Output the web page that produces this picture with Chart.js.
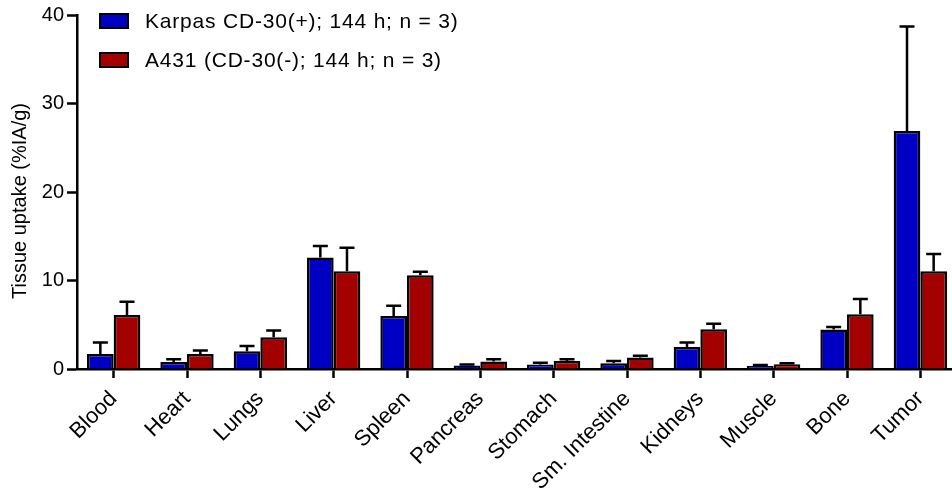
<!DOCTYPE html>
<html>
<head>
<meta charset="utf-8">
<script src="https://cdn.jsdelivr.net/npm/chart.js@4.4.1/dist/chart.umd.min.js"></script>
<style>
  html, body { margin: 0; padding: 0; background: #fff; overflow: hidden; }
  #wrap { width: 960px; height: 494px; }
</style>
</head>
<body>
<div id="wrap"><canvas id="chart" width="960" height="494"></canvas></div>
<script>
const tissues = ['Blood', 'Heart', 'Lungs', 'Liver', 'Spleen', 'Pancreas', 'Stomach', 'Sm. Intestine', 'Kidneys', 'Muscle', 'Bone', 'Tumor'];

// mean values (%IA/g)
const karpasMean = [1.7, 0.8, 2.0, 12.6, 6.0, 0.4, 0.5, 0.65, 2.5, 0.35, 4.45, 26.9];
const a431Mean   = [6.1, 1.7, 3.6, 11.05, 10.6, 0.85, 0.9, 1.3, 4.5, 0.55, 6.2, 11.05];

// top of the error bar (mean + SD)
const karpasErr = [3.0, 1.1, 2.6, 13.9, 7.15, 0.5, 0.7, 0.9, 3.0, 0.45, 4.75, 38.7];
const a431Err   = [7.6, 2.1, 4.35, 13.7, 11.0, 1.1, 1.1, 1.5, 5.1, 0.65, 7.9, 13.0];

const yTicks = [0, 10, 20, 30, 40];
const yTitle = 'Tissue uptake (%IA/g)';

const colors = {
    blue: '#0000c4',
    red: '#a30000',
    black: '#000000'
};

const FONT = "'Liberation Sans', Arial, sans-serif";

const errorBars = {
    id: 'errorBars',
    afterDatasetsDraw(chart) {
        const { ctx, scales: { y } } = chart;
        const tops = [karpasErr, a431Err];
        ctx.save();
        ctx.strokeStyle = colors.black;
        ctx.lineWidth = 2.5;
        chart.data.datasets.forEach((ds, di) => {
            chart.getDatasetMeta(di).data.forEach((bar, i) => {
                const yTop = y.getPixelForValue(tops[di][i]);
                ctx.beginPath();
                ctx.moveTo(bar.x, bar.y);
                ctx.lineTo(bar.x, yTop);
                ctx.moveTo(bar.x - 7.5, yTop);
                ctx.lineTo(bar.x + 7.5, yTop);
                ctx.stroke();
            });
        });
        ctx.restore();
    }
};

// legend inside the plot + y title (placed by hand, like the original)
const annotations = {
    id: 'annotations',
    afterDraw(chart) {
        const { ctx } = chart;
        ctx.save();
        ctx.font = '21px ' + FONT;
        if ('letterSpacing' in ctx) ctx.letterSpacing = '0.8px';
        ctx.textBaseline = 'middle';
        chart.data.datasets.forEach((ds, i) => {
            const top = 14 + i * 39;
            ctx.fillStyle = ds.backgroundColor;
            ctx.fillRect(100, top, 28, 14);
            ctx.strokeStyle = colors.black;
            ctx.lineWidth = 2;
            ctx.strokeRect(100, top, 28, 14);
            ctx.fillStyle = colors.black;
            ctx.fillText(ds.label, 145, top + 8);
        });
        if ('letterSpacing' in ctx) ctx.letterSpacing = '0px';
        ctx.font = '20px ' + FONT;
        ctx.translate(20, 201);
        ctx.rotate(-Math.PI / 2);
        ctx.textAlign = 'center';
        ctx.fillText(yTitle, 0, 0);
        ctx.restore();
    }
};

const ctx = document.getElementById('chart').getContext('2d');
new Chart(ctx, {
    type: 'bar',
    data: {
        labels: tissues,
        datasets: [
            {
                label: 'Karpas CD-30(+); 144 h; n = 3)',
                data: karpasMean,
                backgroundColor: colors.blue,
                borderColor: colors.black,
                borderWidth: 2.5,
                borderSkipped: 'bottom'
            },
            {
                label: 'A431 (CD-30(-); 144 h; n = 3)',
                data: a431Mean,
                backgroundColor: colors.red,
                borderColor: colors.black,
                borderWidth: 2.5,
                borderSkipped: 'bottom'
            }
        ]
    },
    options: {
        responsive: false,
        animation: false,
        layout: { padding: { top: 14, right: 3, left: 0, bottom: 0 } },
        datasets: { bar: { categoryPercentage: 0.727, barPercentage: 1.0 } },
        plugins: {
            legend: { display: false },
            tooltip: { enabled: false }
        },
        scales: {
            x: {
                grid: {
                    offset: false,
                    drawOnChartArea: false,
                    drawTicks: true,
                    tickLength: 9,
                    tickWidth: 2.5,
                    tickColor: colors.black
                },
                border: { display: true, color: colors.black, width: 2.5 },
                ticks: {
                    color: colors.black,
                    font: { family: FONT, size: 22 },
                    minRotation: 45,
                    maxRotation: 45,
                    padding: 8,
                    autoSkip: false
                },
                afterFit(scale) { scale.height = 125; }
            },
            y: {
                min: 0,
                max: 40,
                afterBuildTicks(scale) { scale.ticks = yTicks.map(v => ({ value: v })); },
                grid: {
                    drawOnChartArea: false,
                    drawTicks: true,
                    tickLength: 10,
                    tickWidth: 2.5,
                    tickColor: colors.black
                },
                border: { display: true, color: colors.black, width: 2.5 },
                ticks: {
                    color: colors.black,
                    font: { family: FONT, size: 20 },
                    padding: 3
                },
                afterFit(scale) { scale.width = 77; }
            }
        }
    },
    plugins: [errorBars, annotations]
});
</script>
</body>
</html>
